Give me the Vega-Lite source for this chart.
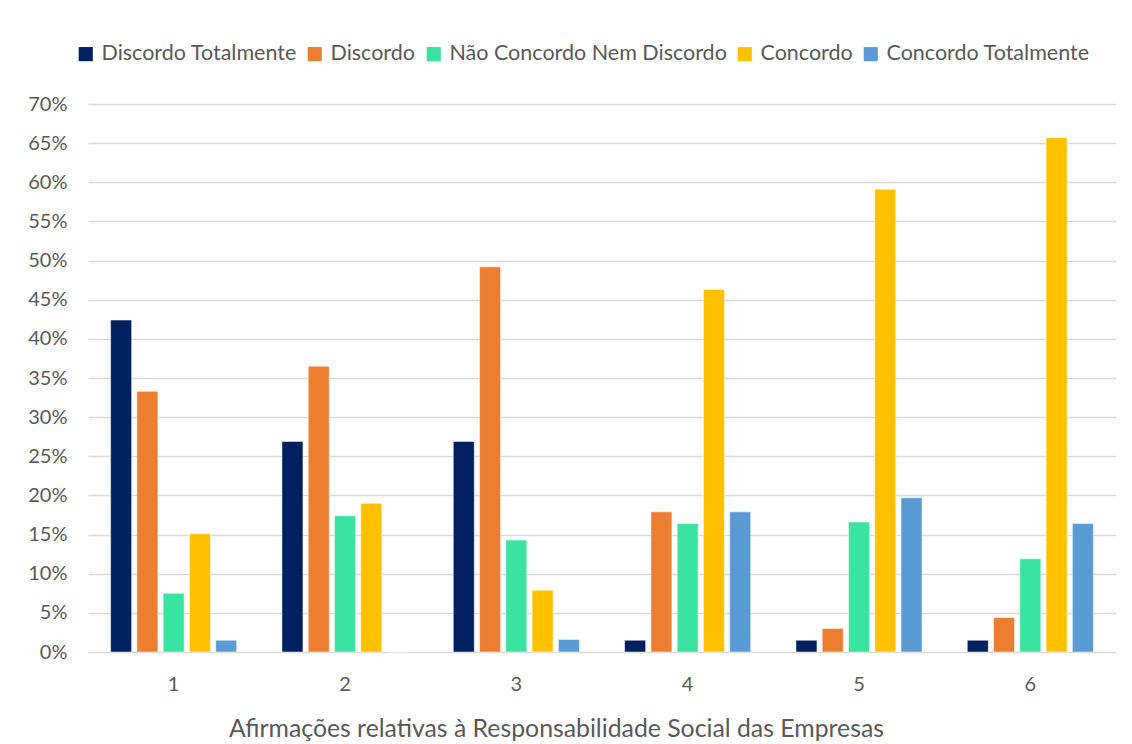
{
  "$schema": "https://vega.github.io/schema/vega-lite/v6.json",
  "width": 1028,
  "height": 548,
  "autosize": {"type": "none"},
  "padding": {"left": 88, "top": 104, "right": 16, "bottom": 92},
  "background": "white",
  "config": {
    "font": "Lato",
    "view": {"stroke": null},
    "axis": {"labelFont": "Lato", "titleFont": "Lato", "labelColor": "#595959", "titleColor": "#595959"},
    "legend": {"labelFont": "Lato", "labelColor": "#595959"}
  },
  "data": {
    "values": [
      {"afirmacao": "1", "resposta": "Discordo Totalmente", "pct": 42.4},
      {"afirmacao": "1", "resposta": "Discordo", "pct": 33.3},
      {"afirmacao": "1", "resposta": "Não Concordo Nem Discordo", "pct": 7.5},
      {"afirmacao": "1", "resposta": "Concordo", "pct": 15.1},
      {"afirmacao": "1", "resposta": "Concordo Totalmente", "pct": 1.5},
      {"afirmacao": "2", "resposta": "Discordo Totalmente", "pct": 26.9},
      {"afirmacao": "2", "resposta": "Discordo", "pct": 36.5},
      {"afirmacao": "2", "resposta": "Não Concordo Nem Discordo", "pct": 17.4},
      {"afirmacao": "2", "resposta": "Concordo", "pct": 19.0},
      {"afirmacao": "2", "resposta": "Concordo Totalmente", "pct": 0},
      {"afirmacao": "3", "resposta": "Discordo Totalmente", "pct": 26.9},
      {"afirmacao": "3", "resposta": "Discordo", "pct": 49.2},
      {"afirmacao": "3", "resposta": "Não Concordo Nem Discordo", "pct": 14.3},
      {"afirmacao": "3", "resposta": "Concordo", "pct": 7.9},
      {"afirmacao": "3", "resposta": "Concordo Totalmente", "pct": 1.6},
      {"afirmacao": "4", "resposta": "Discordo Totalmente", "pct": 1.5},
      {"afirmacao": "4", "resposta": "Discordo", "pct": 17.9},
      {"afirmacao": "4", "resposta": "Não Concordo Nem Discordo", "pct": 16.4},
      {"afirmacao": "4", "resposta": "Concordo", "pct": 46.3},
      {"afirmacao": "4", "resposta": "Concordo Totalmente", "pct": 17.9},
      {"afirmacao": "5", "resposta": "Discordo Totalmente", "pct": 1.5},
      {"afirmacao": "5", "resposta": "Discordo", "pct": 3.0},
      {"afirmacao": "5", "resposta": "Não Concordo Nem Discordo", "pct": 16.6},
      {"afirmacao": "5", "resposta": "Concordo", "pct": 59.1},
      {"afirmacao": "5", "resposta": "Concordo Totalmente", "pct": 19.7},
      {"afirmacao": "6", "resposta": "Discordo Totalmente", "pct": 1.5},
      {"afirmacao": "6", "resposta": "Discordo", "pct": 4.4},
      {"afirmacao": "6", "resposta": "Não Concordo Nem Discordo", "pct": 11.9},
      {"afirmacao": "6", "resposta": "Concordo", "pct": 65.7},
      {"afirmacao": "6", "resposta": "Concordo Totalmente", "pct": 16.4}
    ]
  },
  "mark": {"type": "bar", "stroke": "white", "strokeOpacity": 0.5, "strokeWidth": 1},
  "encoding": {
    "x": {
      "field": "afirmacao",
      "type": "nominal",
      "scale": {"paddingInner": 0.264, "paddingOuter": 0.132},
      "axis": {
        "title": "Afirmações relativas à Responsabilidade Social das Empresas",
        "titleFontSize": 24.8,
        "titleFontWeight": "normal",
        "titlePadding": 22,
        "titleX": 468,
        "labelFontSize": 20,
        "labelAngle": 0,
        "labelPadding": 22,
        "ticks": false,
        "domain": false,
        "grid": false
      }
    },
    "xOffset": {
      "field": "resposta",
      "type": "nominal",
      "sort": ["Discordo Totalmente", "Discordo", "Não Concordo Nem Discordo", "Concordo", "Concordo Totalmente"],
      "scale": {"paddingInner": 0.2, "paddingOuter": 0}
    },
    "y": {
      "field": "pct",
      "type": "quantitative",
      "scale": {"domain": [0, 70]},
      "axis": {
        "title": null,
        "values": [0, 5, 10, 15, 20, 25, 30, 35, 40, 45, 50, 55, 60, 65, 70],
        "labelExpr": "datum.value + '%'",
        "labelFontSize": 20,
        "labelPadding": 21,
        "ticks": false,
        "domain": false,
        "grid": true,
        "gridColor": "#d9d9d9",
        "gridWidth": 1.3
      }
    },
    "color": {
      "field": "resposta",
      "type": "nominal",
      "scale": {
        "domain": ["Discordo Totalmente", "Discordo", "Não Concordo Nem Discordo", "Concordo", "Concordo Totalmente"],
        "range": ["#002060", "#ED7D31", "#3BE3A0", "#FFC000", "#5B9BD5"]
      },
      "legend": {
        "title": null,
        "orient": "none",
        "legendX": -13,
        "legendY": -61,
        "direction": "horizontal",
        "symbolType": "square",
        "symbolSize": 200,
        "symbolStrokeWidth": 0,
        "labelFontSize": 21.5,
        "labelOffset": 5,
        "columnPadding": 7,
        "labelLimit": 400
      }
    }
  }
}
